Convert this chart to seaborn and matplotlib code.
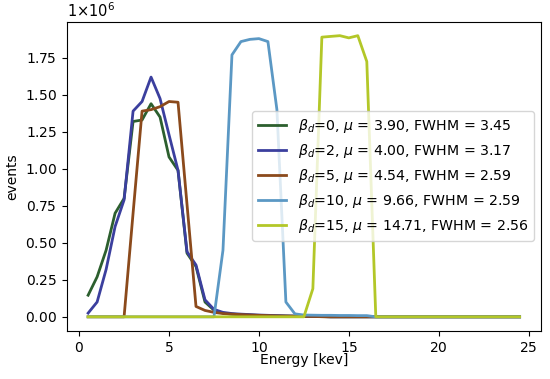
import pandas as pd
import matplotlib
matplotlib.use("Agg")
import matplotlib.pyplot as plt
from matplotlib.ticker import ScalarFormatter
import seaborn as sns

# energy bins [keV]
energy = [0.5, 1.0, 1.5, 2.0, 2.5, 3.0, 3.5, 4.0, 4.5, 5.0,
          5.5, 6.0, 6.5, 7.0, 7.5, 8.0, 8.5, 9.0, 9.5, 10.0,
          10.5, 11.0, 11.5, 12.0, 12.5, 13.0, 13.5, 14.0, 14.5, 15.0,
          15.5, 16.0, 16.5, 17.0, 17.5, 18.0, 18.5, 19.0, 19.5, 20.0,
          20.5, 21.0, 21.5, 22.0, 22.5, 23.0, 23.5, 24.0, 24.5]

# events, in units of 1e6
beta0 = [0.146, 0.27, 0.45, 0.70, 0.80, 1.32, 1.33, 1.44, 1.35, 1.08,
         0.99, 0.43, 0.34, 0.10, 0.045, 0.025, 0.018, 0.014, 0.011, 0.009,
         0.007, 0.006, 0.005, 0.004, 0.003, 0.002, 0.001, 0, 0, 0,
         0, 0, 0, 0, 0, 0, 0, 0, 0, 0,
         0, 0, 0, 0, 0, 0, 0, 0, 0]
beta2 = [0.025, 0.10, 0.32, 0.61, 0.79, 1.39, 1.455, 1.62, 1.475, 1.23,
         0.99, 0.44, 0.35, 0.115, 0.05, 0.03, 0.022, 0.018, 0.015, 0.012,
         0.01, 0.008, 0.006, 0.005, 0.004, 0.003, 0.002, 0, 0, 0,
         0, 0, 0, 0, 0, 0, 0, 0, 0, 0,
         0, 0, 0, 0, 0, 0, 0, 0, 0]
beta5 = [0, 0, 0, 0, 0, 0.70, 1.39, 1.40, 1.42, 1.455,
         1.45, 0.76, 0.07, 0.043, 0.03, 0.022, 0.018, 0.015, 0.012, 0.01,
         0.008, 0.006, 0.005, 0.004, 0.003, 0.002, 0.001, 0, 0, 0,
         0, 0, 0, 0, 0, 0, 0, 0, 0, 0,
         0, 0, 0, 0, 0, 0, 0, 0, 0]
beta10 = [0, 0, 0, 0, 0, 0, 0, 0, 0, 0,
          0, 0, 0, 0, 0, 0.45, 1.77, 1.86, 1.875, 1.88,
          1.86, 1.40, 0.10, 0.02, 0.012, 0.011, 0.01, 0.01, 0.009, 0.009,
          0.008, 0.008, 0, 0, 0, 0, 0, 0, 0, 0,
          0, 0, 0, 0, 0, 0, 0, 0, 0]
beta15 = [0, 0, 0, 0, 0, 0, 0, 0, 0, 0,
          0, 0, 0, 0, 0, 0, 0, 0, 0, 0,
          0, 0, 0, 0, 0, 0.19, 1.89, 1.895, 1.90, 1.885,
          1.90, 1.725, 0, 0, 0, 0, 0, 0, 0, 0,
          0, 0, 0, 0, 0, 0, 0, 0, 0]

labels = [
    r"$\beta_d$=0, $\mu$ = 3.90, FWHM = 3.45",
    r"$\beta_d$=2, $\mu$ = 4.00, FWHM = 3.17",
    r"$\beta_d$=5, $\mu$ = 4.54, FWHM = 2.59",
    r"$\beta_d$=10, $\mu$ = 9.66, FWHM = 2.59",
    r"$\beta_d$=15, $\mu$ = 14.71, FWHM = 2.56",
]
colors = ["#2c5f2e", "#3b3f9e", "#8b4a1c", "#5b98c4", "#b3c728"]


class OneTimesFormatter(ScalarFormatter):
    """Offset text drawn as 1x10^n like older matplotlib."""
    def get_offset(self):
        s = super().get_offset()
        if not s:
            return s
        return r"$\mathdefault{1{\times}10^{%d}}$" % self.orderOfMagnitude


frames = []
for lab, vals in zip(labels, [beta0, beta2, beta5, beta10, beta15]):
    frames.append(pd.DataFrame({"energy": energy,
                                "events": [v * 1e6 for v in vals],
                                "series": lab}))
df = pd.concat(frames, ignore_index=True)

plt.rcParams["axes.formatter.use_mathtext"] = True

fig = plt.figure(figsize=(5.5, 3.79), dpi=100)
ax = fig.add_axes([0.121, 0.127, 0.863, 0.816])

sns.lineplot(data=df, x="energy", y="events", hue="series",
             palette=dict(zip(labels, colors)), linewidth=2, ax=ax)

ax.yaxis.set_major_formatter(OneTimesFormatter(useMathText=True))
ax.set_xlabel("Energy [kev]", labelpad=-1.5)
ax.set_ylabel("events")
ax.yaxis.get_offset_text().set_fontsize(10.5)
ax.legend(loc="center right", title=None, fontsize=10.2)

fig.savefig("out.png", dpi=100)
